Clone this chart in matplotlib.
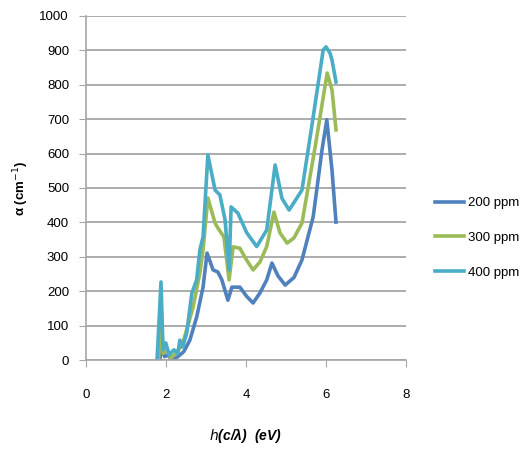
import numpy as np
import matplotlib.pyplot as plt

# photon energy (eV) and absorption coefficient (cm^-1)
x_200 = [1.85, 1.9, 1.97, 2.05, 2.15, 2.3, 2.45, 2.6, 2.77, 2.93, 3.03, 3.18, 3.3, 3.4,
         3.55, 3.65, 3.85, 4.02, 4.18, 4.35, 4.52, 4.65, 4.8, 4.98, 5.2, 5.4, 5.68, 5.9,
         6.02, 6.15, 6.25]
y_200 = [0, 40, 10, 15, 0, 10, 25, 58, 125, 212, 311, 262, 256, 233,
         174, 212, 212, 185, 166, 195, 233, 282, 245, 218, 240, 291, 416, 610,
         698, 552, 401]

x_300 = [1.82, 1.88, 1.93, 2.05, 2.12, 2.25, 2.35, 2.45, 2.55, 2.68, 2.85, 2.93, 3.05,
         3.23, 3.3, 3.45, 3.58, 3.68, 3.85, 4.02, 4.18, 4.35, 4.52, 4.7, 4.85, 5.03,
         5.2, 5.4, 5.73, 6.03, 6.15, 6.25]
y_300 = [0, 150, 20, 30, 5, 20, 35, 60, 100, 154, 253, 320, 471,
         398, 384, 358, 233, 329, 325, 290, 262, 285, 330, 430, 370, 340,
         355, 398, 620, 834, 785, 669]

x_400 = [1.78, 1.88, 1.93, 2.0, 2.08, 2.2, 2.3, 2.35, 2.42, 2.52, 2.65, 2.77, 2.85, 2.93,
         3.05, 3.23, 3.35, 3.48, 3.58, 3.63, 3.8, 4.02, 4.27, 4.52, 4.73, 4.9, 5.08,
         5.4, 5.68, 5.93, 6.0, 6.1, 6.15, 6.25]
y_400 = [0, 227, 30, 50, 15, 30, 20, 58, 38, 78, 195, 233, 320, 358,
         596, 494, 480, 407, 262, 445, 427, 370, 330, 378, 567, 470, 436,
         494, 706, 901, 910, 892, 872, 808]

labels = ['200 ppm', '300 ppm', '400 ppm']
colors = ['#4F81BD', '#9BBB59', '#4BACC6']

plt.rcParams['font.family'] = ['Liberation Sans', 'DejaVu Sans']

fig = plt.figure(figsize=(5.26, 4.53), dpi=100)
ax = fig.add_axes([0.163, 0.205, 0.609, 0.76])

for xs, ys, lab, c in zip([x_200, x_300, x_400], [y_200, y_300, y_400], labels, colors):
    ax.plot(xs, ys, color=c, lw=2.6, label=lab, solid_joinstyle='round')

ax.set_xlim(0, 8)
ax.set_ylim(0, 1000)
ax.set_xticks([0, 2, 4, 6, 8])
ax.set_yticks(np.arange(0, 1001, 100))
ax.grid(axis='y', color='#a6a6a6', lw=1.3)
ax.set_axisbelow(True)
for s in ['top', 'right']:
    ax.spines[s].set_visible(False)
for s in ['left', 'bottom']:
    ax.spines[s].set_color('#a6a6a6')
    ax.spines[s].set_linewidth(1.2)
ax.tick_params(direction='out', length=5, color='#a6a6a6', labelsize=9.5, pad=7)
ax.tick_params(axis='x', pad=16)

ax.set_xlabel(r'$h$(c/λ)  (eV)', fontsize=10, fontweight='bold', style='italic', labelpad=18)
ax.set_ylabel('α (cm$^{-1}$)', fontsize=9.5, fontweight='bold', labelpad=6)

ax.legend(loc='center left', bbox_to_anchor=(1.075, 0.355), frameon=False,
          fontsize=9.5, handlelength=2.2, labelspacing=1.7, handletextpad=0.3,
          borderaxespad=0)

fig.savefig('out.png', dpi=100)
